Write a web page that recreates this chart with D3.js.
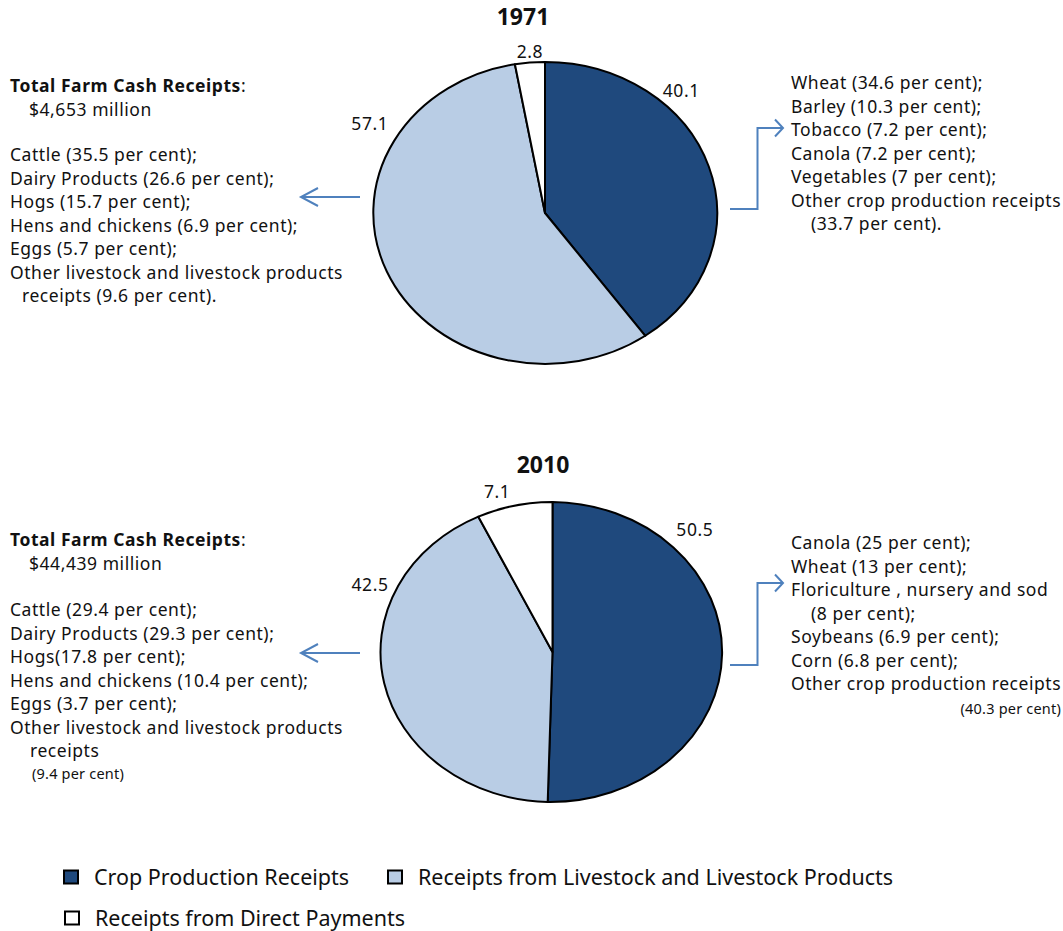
<!DOCTYPE html>
<html>
<head>
<meta charset="utf-8">
<script src="https://cdn.jsdelivr.net/npm/d3@7"></script>
<style>
  body { margin: 0; background: #fff; }
  text { font-family: "Noto Sans", sans-serif; fill: #111; }
  .body { letter-spacing: 0.55px; }
</style>
</head>
<body>
<script>
// farm cash receipts, two pies (1971 and 2010)

var categories = ['Crop Production Receipts', 'Receipts from Livestock and Livestock Products', 'Receipts from Direct Payments'];
var years = ['1971', '2010'];
var shares1971 = [40.1, 57.1, 2.8];
var shares2010 = [50.5, 42.5, 7.1];
var totals = ['$4,653 million', '$44,439 million'];

var livestock1971 = ['Cattle (35.5 per cent);', 'Dairy Products (26.6 per cent);', 'Hogs (15.7 per cent);',
  'Hens and chickens (6.9 per cent);', 'Eggs (5.7 per cent);',
  'Other livestock and livestock products', 'receipts (9.6 per cent).'];
var crops1971 = ['Wheat (34.6 per cent);', 'Barley (10.3 per cent);', 'Tobacco (7.2 per cent);',
  'Canola (7.2 per cent);', 'Vegetables (7 per cent);', 'Other crop production receipts', '(33.7 per cent).'];
var livestock2010 = ['Cattle (29.4 per cent);', 'Dairy Products (29.3 per cent);', 'Hogs(17.8 per cent);',
  'Hens and chickens (10.4 per cent);', 'Eggs (3.7 per cent);',
  'Other livestock and livestock products', 'receipts', '(9.4 per cent)'];
var crops2010 = ['Canola (25 per cent);', 'Wheat (13 per cent);', 'Floriculture , nursery and sod', '(8 per cent);',
  'Soybeans (6.9 per cent);', 'Corn (6.8 per cent);', 'Other crop production receipts', '(40.3 per cent)'];

var colors = ['#1f497d', '#b9cde5', '#ffffff'];
var arrowBlue = '#4f81bd';

var W = 1063, H = 931;
var svg = d3.select('body').append('svg')
  .attr('width', W)
  .attr('height', H);

var defs = svg.append('defs');
// wide chevron for the left arrows, narrow one for the right brackets
[['chevL', 'M-17,-9 L0,0 L-17,9'], ['chevR', 'M-8,-8.5 L0,0 L-8,8.5']].forEach(function(m) {
  defs.append('marker')
    .attr('id', m[0])
    .attr('viewBox', '-20 -12 24 24')
    .attr('refX', 0).attr('refY', 0)
    .attr('markerWidth', 24).attr('markerHeight', 24)
    .attr('markerUnits', 'userSpaceOnUse')
    .attr('orient', 'auto')
    .append('path')
    .attr('d', m[1])
    .attr('fill', 'none')
    .attr('stroke', arrowBlue)
    .attr('stroke-width', 2);
});

var color = d3.scaleOrdinal().domain(categories).range(colors);
var pie = d3.pie().sort(null).value(function(d) { return d.v; });
var arc = d3.arc().innerRadius(0).outerRadius(1);
var fmt = d3.format('.1f');

// layout for each panel (label spots are angle in degrees + radius factor)
var panels = [
  { year: years[0], shares: shares1971, total: totals[0], left: livestock1971, right: crops1971,
    cx: 545, cy: 213, rx: 172, ry: 151, titleX: 523, titleY: 25,
    leftTop: 92, listTop: 161, rightTop: 89,
    leftIndent: [0, 0, 0, 0, 0, 0, 12], rightIndent: [0, 0, 0, 0, 0, 0, 20],
    leftArrowY: 197, bracket: [209, 128],
    labels: [[44.5, 1.13], [300, 1.176], [355.3, 1.07]] },
  { year: years[1], shares: shares2010, total: totals[1], left: livestock2010, right: crops2010,
    cx: 552.5, cy: 652, rx: 172, ry: 150, titleX: 543, titleY: 473,
    leftTop: 546, listTop: 616, rightTop: 549,
    leftIndent: [0, 0, 0, 0, 0, 0, 20, 22], rightIndent: [0, 0, 0, 20, 0, 0, 0, -1],
    leftArrowY: 653, bracket: [665, 583],
    labels: [[45.5, 1.16], [292.8, 1.151], [343.2, 1.115]] }
];

var lineH = 23.5;
var fs = '17.5px';

panels.forEach(function(p) {
  var data = p.shares.map(function(v, i) { return { k: categories[i], v: v }; });

  svg.append('text')
    .attr('x', p.titleX).attr('y', p.titleY)
    .attr('text-anchor', 'middle')
    .style('font-size', '23px').style('font-weight', 'bold')
    .text(p.year);

  var g = svg.append('g')
    .attr('transform', 'translate(' + p.cx + ',' + p.cy + ') scale(' + p.rx + ',' + p.ry + ')');

  g.selectAll('path').data(pie(data)).enter().append('path')
    .attr('d', arc)
    .attr('fill', function(d) { return color(d.data.k); })
    .attr('stroke', '#000')
    .attr('stroke-width', 2)
    .attr('vector-effect', 'non-scaling-stroke')
    .attr('stroke-linejoin', 'round');

  svg.selectAll(null).data(data).enter().append('text')
    .attr('class', 'body')
    .attr('x', function(d, i) {
      var a = p.labels[i][0] * Math.PI / 180;
      return p.cx + Math.sin(a) * p.rx * p.labels[i][1];
    })
    .attr('y', function(d, i) {
      var a = p.labels[i][0] * Math.PI / 180;
      return p.cy - Math.cos(a) * p.ry * p.labels[i][1] + 6;
    })
    .attr('text-anchor', 'middle')
    .style('font-size', fs)
    .text(function(d) { return fmt(d.v); });

  // left block
  var tt = svg.append('text').attr('class', 'body').attr('x', 10).attr('y', p.leftTop).style('font-size', fs);
  tt.append('tspan').style('font-weight', 'bold').text('Total Farm Cash Receipts');
  tt.append('tspan').text(':');
  svg.append('text').attr('class', 'body')
    .attr('x', 29).attr('y', p.leftTop + lineH).style('font-size', fs).text(p.total);

  svg.selectAll(null).data(p.left).enter().append('text')
    .attr('class', 'body')
    .attr('x', function(d, i) { return 10 + p.leftIndent[i]; })
    .attr('y', function(d, i) { return p.listTop + i * lineH - (i == 7 ? 2 : 0); })
    .style('font-size', function(d, i) { return i == 7 ? '14.5px' : fs; })
    .style('letter-spacing', function(d, i) { return i == 7 ? '0.2px' : null; })
    .text(function(d) { return d; });

  // right block
  svg.selectAll(null).data(p.right).enter().append('text')
    .attr('class', 'body')
    .attr('x', function(d, i) { return p.rightIndent[i] < 0 ? 1061 : 791 + p.rightIndent[i]; })
    .attr('y', function(d, i) { return p.rightTop + i * lineH; })
    .attr('text-anchor', function(d, i) { return p.rightIndent[i] < 0 ? 'end' : 'start'; })
    .style('font-size', function(d, i) { return p.rightIndent[i] < 0 ? '14.5px' : fs; })
    .style('letter-spacing', function(d, i) { return p.rightIndent[i] < 0 ? '0.2px' : null; })
    .text(function(d) { return d; });

  // arrows
  svg.append('line')
    .attr('x1', 360).attr('y1', p.leftArrowY)
    .attr('x2', 301).attr('y2', p.leftArrowY)
    .attr('stroke', arrowBlue).attr('stroke-width', 2)
    .attr('marker-end', 'url(#chevL)');

  svg.append('path')
    .attr('d', 'M730,' + p.bracket[0] + ' H757.5 V' + p.bracket[1] + ' H783')
    .attr('fill', 'none')
    .attr('stroke', arrowBlue).attr('stroke-width', 2)
    .attr('marker-end', 'url(#chevR)');
});

// legend
var legendPos = [[63, 877], [387, 877], [64, 918]];
var lg = svg.selectAll('.leg').data(categories).enter().append('g')
  .attr('class', 'leg')
  .attr('transform', function(d, i) { return 'translate(' + legendPos[i][0] + ',' + legendPos[i][1] + ')'; });

lg.append('rect')
  .attr('x', 1).attr('y', -6.5).attr('width', 14).attr('height', 13)
  .attr('fill', function(d) { return color(d); })
  .attr('stroke', '#000').attr('stroke-width', 2);

lg.append('text')
  .attr('x', 31).attr('y', 7.5)
  .style('font-size', '21.5px')
  .text(function(d) { return d; });
</script>
</body>
</html>
